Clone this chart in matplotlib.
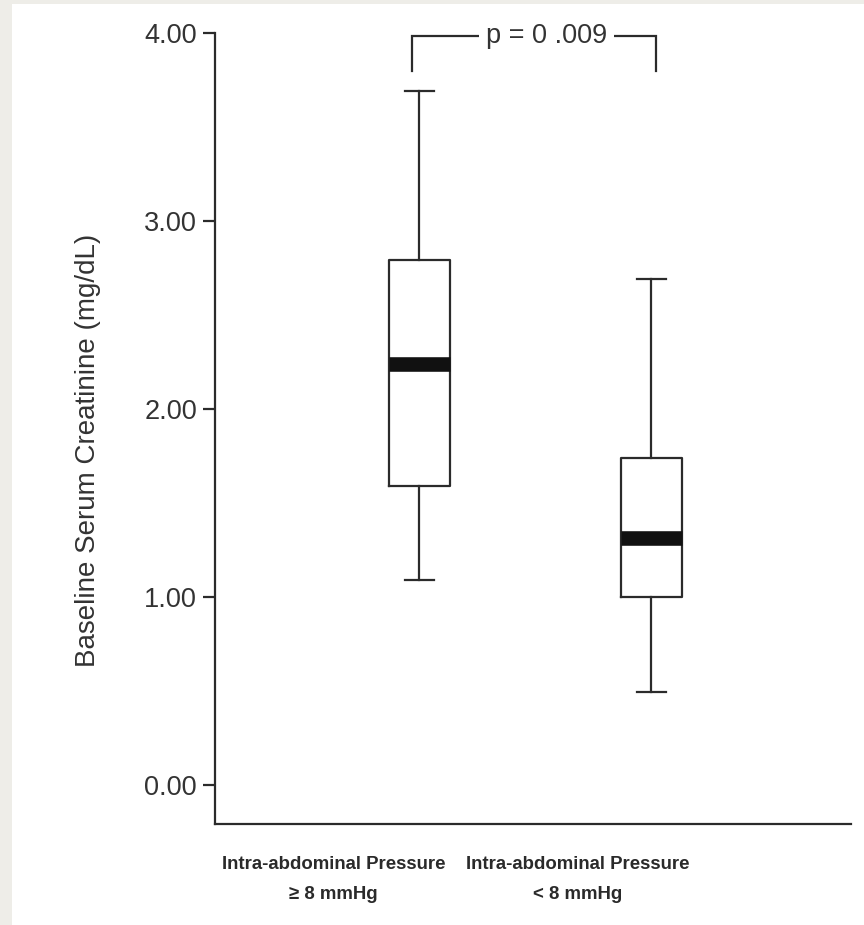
import matplotlib
matplotlib.use("Agg")
import matplotlib.pyplot as plt
from matplotlib.patches import Rectangle

# box statistics (mg/dL)
groups = ["Intra-abdominal Pressure\n\u2265 8 mmHg", "Intra-abdominal Pressure\n< 8 mmHg"]
whis_lo = [1.09, 0.49]
q1 = [1.59, 1.00]
med = [2.24, 1.31]
q3 = [2.79, 1.74]
whis_hi = [3.69, 2.69]
p_text = "p = 0 .009"
yticks = [0.0, 1.0, 2.0, 3.0, 4.0]

plt.rcParams['font.family'] = ['Liberation Sans', 'DejaVu Sans']

ink = "#2b2b2b"
fig = plt.figure(figsize=(8.64, 9.25), dpi=100)
fig.patch.set_facecolor("#eeede8")
fig.patches.append(Rectangle((12/864, 0), 1, 1 - 4/925, transform=fig.transFigure,
                             facecolor="white", edgecolor="none", zorder=-10))

ax = fig.add_axes([0.2488, 0.1092, 0.7361, 0.8551])
ax.set_facecolor("none")
ax.set_zorder(5)

stats = []
for i in range(len(groups)):
    stats.append(dict(whislo=whis_lo[i], q1=q1[i], med=med[i], q3=q3[i],
                      whishi=whis_hi[i], fliers=[]))
pos = [1, 2]
ax.bxp(stats, positions=pos, widths=0.263, capwidths=0.125, showfliers=False,
       patch_artist=False,
       boxprops=dict(color=ink, linewidth=1.6),
       whiskerprops=dict(color=ink, linewidth=1.6),
       capprops=dict(color=ink, linewidth=1.6),
       medianprops=dict(color="#111111", linewidth=10.5, solid_capstyle="butt"))

ax.set_xlim(0.12, 2.86)
ax.set_ylim(-0.21, 4.0)
ax.set_yticks(yticks)
ax.set_yticklabels(["%.2f" % v for v in yticks], fontsize=19.5, color="#333333")
ax.set_xticks([])
for s in ["top", "right"]:
    ax.spines[s].set_visible(False)
for s in ["left", "bottom"]:
    ax.spines[s].set_color(ink)
    ax.spines[s].set_linewidth(1.6)
ax.tick_params(axis="y", direction="out", length=9, width=1.6, color=ink, pad=4)

# significance bracket
xl, xr = pos[0] - 0.03, pos[1] + 0.02
ytop, ybot = 3.985, 3.80
ax.plot([xl, xl, xr, xr], [ybot, ytop, ytop, ybot], color=ink, lw=1.6,
        clip_on=False, solid_joinstyle="miter")
ax.text(1.55, ytop, p_text, ha="center", va="center", fontsize=19.5, color="#333333",
        bbox=dict(facecolor="white", edgecolor="none", pad=5), clip_on=False)

# group labels (offset left of the boxes as in the original)
label_x = [0.631, 1.681]
for x, lab in zip(label_x, groups):
    ax.text(x, -0.070, lab, transform=ax.get_xaxis_transform(), ha="center", va="center",
            multialignment="center", fontsize=13.4, fontweight="bold",
            color="#2a2a2a", linespacing=1.95)

fig.text(88/864, 1 - 450/925, "Baseline Serum Creatinine (mg/dL)", rotation=90,
         ha="center", va="center", fontsize=20, color="#333333")

fig.savefig("out.png", dpi=100, facecolor=fig.get_facecolor())
